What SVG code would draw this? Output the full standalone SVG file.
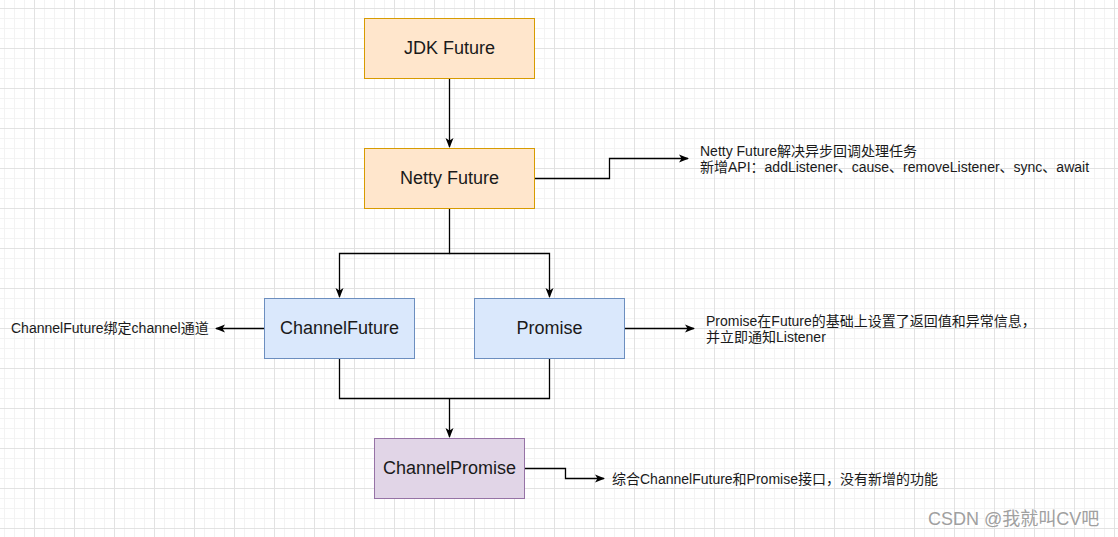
<svg xmlns="http://www.w3.org/2000/svg" width="1118" height="537" viewBox="0 0 1118 537">
<defs>
<pattern id="minor" x="4" y="8" width="10" height="10" patternUnits="userSpaceOnUse">
<path d="M0 0.5H10M0.5 0V10" stroke="#f3f3f3" stroke-width="1" fill="none"/>
</pattern>
<pattern id="major" x="34" y="8" width="40" height="40" patternUnits="userSpaceOnUse">
<path d="M0 0.5H40M0.5 0V40" stroke="#e2e2e2" stroke-width="1" fill="none"/>
</pattern>
<marker id="arr" viewBox="0 0 10 10" refX="9" refY="5" markerWidth="10" markerHeight="10" markerUnits="userSpaceOnUse" orient="auto">
<path d="M0 1L10 5L0 9L2.5 5Z" fill="#000"/>
</marker>
</defs>
<style>
.lbl{font-family:"Liberation Sans",Arial,"Noto Sans CJK SC",sans-serif;font-size:18px;fill:#1a1a1a;text-anchor:middle;dominant-baseline:central}
.note{font-family:"Liberation Sans",Arial,"Noto Sans CJK SC",sans-serif;font-size:14px;fill:#1a1a1a}
.orange{fill:#ffe6cc;stroke:#d79b00;stroke-width:1}
.blue{fill:#dae8fc;stroke:#6c8ebf;stroke-width:1}
.purple{fill:#e1d5e7;stroke:#9673a6;stroke-width:1}
.edge{fill:none;stroke:#000;stroke-width:1.3}
</style>
<rect width="1118" height="537" fill="#ffffff"/>
<rect width="1118" height="537" fill="url(#minor)"/>
<rect width="1118" height="537" fill="url(#major)"/>

<g id="connectors">
<path class="edge" d="M449.5 78V147" marker-end="url(#arr)"/>
<path class="edge" d="M449.5 208V253.5H339.5V297" marker-end="url(#arr)"/>
<path class="edge" d="M449.5 253.5H549.5V297" marker-end="url(#arr)"/>
<path class="edge" d="M339.5 358V398.5H549.5V358"/>
<path class="edge" d="M449.5 398.5V437" marker-end="url(#arr)"/>
<path class="edge" d="M534 178.5H609.5V158.5H688" marker-end="url(#arr)"/>
<path class="edge" d="M264 328.5H216" marker-end="url(#arr)"/>
<path class="edge" d="M624 328.5H694" marker-end="url(#arr)"/>
<path class="edge" d="M524 468.5H565.5V478.5H604" marker-end="url(#arr)"/>
</g>

<g id="jdk-future">
<rect class="orange" x="364.5" y="18.5" width="170" height="60"/>
<text class="lbl" x="449.5" y="47.5">JDK Future</text>
</g>
<g id="netty-future">
<rect class="orange" x="364.5" y="148.5" width="170" height="60"/>
<text class="lbl" x="449.5" y="177.5">Netty Future</text>
</g>
<g id="channel-future">
<rect class="blue" x="264.5" y="298.5" width="150" height="60"/>
<text class="lbl" x="339.5" y="327.5">ChannelFuture</text>
</g>
<g id="promise">
<rect class="blue" x="474.5" y="298.5" width="150" height="60"/>
<text class="lbl" x="549.5" y="327.5">Promise</text>
</g>
<g id="channel-promise">
<rect class="purple" x="374.5" y="438.5" width="150" height="60"/>
<text class="lbl" x="449.5" y="467.5">ChannelPromise</text>
</g>

<g id="note-netty">
<text class="note" x="700" y="156">Netty Future解决异步回调处理任务</text>
<text class="note" x="700" y="172">新增API：addListener、cause、removeListener、sync、await</text>
</g>
<g id="note-channelfuture">
<text class="note" x="11" y="333">ChannelFuture绑定channel通道</text>
</g>
<g id="note-promise">
<text class="note" x="706" y="326">Promise在Future的基础上设置了返回值和异常信息，</text>
<text class="note" x="706" y="342">并立即通知Listener</text>
</g>
<g id="note-channelpromise">
<text class="note" x="612" y="484">综合ChannelFuture和Promise接口，没有新增的功能</text>
</g>
<text x="928" y="525" font-family="'Liberation Sans',Arial,'Noto Sans CJK SC',sans-serif" font-size="18" fill="#a0a0a0">CSDN @我就叫CV吧</text>
</svg>
